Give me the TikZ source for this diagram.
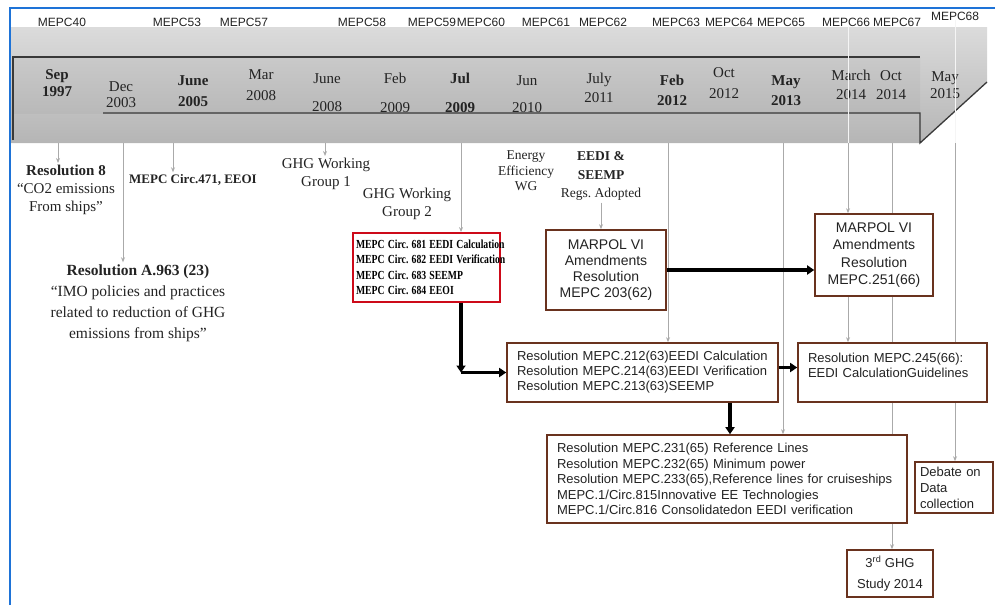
\documentclass[tikz,border=0pt]{standalone}
\usepackage{fontspec}
\usepackage{graphicx}
\setmainfont{Liberation Serif}
\setsansfont{Liberation Sans}
\newcommand{\cndline}[1]{\scalebox{0.79}[1]{\mbox{#1}}}
\usetikzlibrary{arrows.meta}
\pgfdeclarelayer{bg}
\pgfsetlayers{bg,main}
\definecolor{frameblue}{RGB}{30,115,215}
\definecolor{boxc}{RGB}{105,50,30}
\definecolor{redbox}{RGB}{205,10,25}
\definecolor{txt}{RGB}{35,35,35}
\definecolor{linegray}{RGB}{170,170,170}
\begin{document}
\frenchspacing
\begin{tikzpicture}[x=1pt,y=-1pt,
  mepc/.style={font=\sffamily\fontsize{12}{13}\selectfont, text=txt, inner sep=0pt},
  datef/.style={font=\fontsize{15}{17}\selectfont, text=txt, inner sep=0pt, anchor=base},
  ser/.style={font=\fontsize{15}{18}\selectfont, align=center, text=txt, inner sep=2pt},
  sbox/.style={draw=boxc, line width=1.6pt, fill=white, text=txt, inner ysep=0pt,
               font=\sffamily\fontsize{13}{15}\selectfont},
  rbox/.style={draw=redbox, line width=1.8pt, fill=white, text=black, inner xsep=3pt, inner ysep=0pt,
               font=\bfseries\fontsize{12.3}{15.5}\selectfont},
  tick/.style={draw=linegray, line width=0.9pt, -{Stealth[length=5pt,width=4pt]}},
  overl/.style={draw=gray!8, line width=1pt},
  fat/.style={draw=black, line width=3.2pt, -{Triangle[length=7pt,width=9pt]}},
  bandline/.style={draw=gray!45!black, line width=1.3pt}
]
\useasboundingbox (0,0) rectangle (995,605);

% ---------- timeline band ----------
\shade[top color=gray!28, bottom color=gray!58]
  (11,27) -- (987,27) -- (987,82) -- (920,143) -- (11,143) -- cycle;
\shade[top color=gray!42, bottom color=gray!55] (13,57) rectangle (920,113);
\draw[bandline] (13,140) -- (13,57) -- (920,57);
\draw[bandline] (103,113) -- (920,113) -- (920,143) -- (987,82);

% ---------- MEPC session labels ----------
\node[mepc] (mepc40) at (62,22) {MEPC40};
\node[mepc] (mepc53) at (177,22) {MEPC53};
\node[mepc] (mepc57) at (244,22) {MEPC57};
\node[mepc] (mepc58) at (362,22) {MEPC58};
\node[mepc] (mepc59) at (432,22) {MEPC59};
\node[mepc] (mepc60) at (481,22) {MEPC60};
\node[mepc] (mepc61) at (546,22) {MEPC61};
\node[mepc] (mepc62) at (603,22) {MEPC62};
\node[mepc] (mepc63) at (676,22) {MEPC63};
\node[mepc] (mepc64) at (729,22) {MEPC64};
\node[mepc] (mepc65) at (781,22) {MEPC65};
\node[mepc] (mepc66) at (846,22) {MEPC66};
\node[mepc] (mepc67) at (897,22) {MEPC67};
\node[mepc] (mepc68) at (955,16) {MEPC68};

% ---------- dates ----------
\foreach \n/\x/\ya/\yb/\la/\lb in {
  1/57/79/96/\textbf{Sep}/\textbf{1997},
  2/121/91/107/Dec/2003,
  3/193/85/106/\textbf{June}/\textbf{2005},
  4/261/79/100/Mar/2008,
  5/327/83/111/June/2008,
  6/395/83/112/Feb/2009,
  7/460/83/112/\textbf{Jul}/\textbf{2009},
  8/527/85/112/Jun/2010,
  9/599/83/102/July/2011,
  10/672/85/105/\textbf{Feb}/\textbf{2012},
  11/724/77/98/Oct/2012,
  12/786/85/105/\textbf{May}/\textbf{2013},
  13/851/80/99/March/2014,
  14/891/80/99/Oct/2014,
  15/945/81/98/May/2015}{
  \node[datef] (da\n) at (\x,\ya) {\la};
  \node[datef] (db\n) at (\x,\yb) {\lb};
}

% lines from the session labels through the band
\draw[overl] (mepc66.south -| 848,0) -- (848,143);
\draw[overl] (mepc68.south -| 955,0) -- (955,143);

% ---------- anchor points on the band ----------
\coordinate (tSep) at (58,143);
\coordinate (tDec) at (123,143);
\coordinate (tJun05) at (173,143);
\coordinate (tJun08) at (325,143);
\coordinate (tJul09) at (461,143);
\coordinate (tFeb12) at (668,143);
\coordinate (tMay13) at (783,143);
\coordinate (tMar14) at (848,143);
\coordinate (tOct14) at (892,143);
\coordinate (tMay15) at (955,143);

% ---------- serif texts ----------
\node[ser] (res8) at (66,190) {\textbf{Resolution 8}\\“CO2 emissions\\From ships”};
\node[ser, font=\bfseries\fontsize{13}{15}\selectfont] (circ471) at (193,180) {MEPC Circ.471, EEOI};
\node[ser] (ghg1) at (326,174) {GHG Working\\Group 1};
\node[ser] (ghg2) at (407,204) {GHG Working\\Group 2};
\node[ser, font=\fontsize{13.5}{15.5}\selectfont] (eewg) at (526,171) {Energy\\Efficiency\\WG};
\node[ser, font=\fontsize{13.5}{18.5}\selectfont] (eedi) at (601,176) {\textbf{EEDI \&}\\\textbf{SEEMP}\\Regs. Adopted};
\node[ser, font=\fontsize{15.5}{21}\selectfont] (resA) at (138,303)
  {\textbf{Resolution A.963 (23)}\\“IMO policies and practices\\related to reduction of GHG\\emissions from ships”};

% ---------- boxes ----------
\node[rbox, text width=141pt, minimum height=69pt, align=left] (red) at (426.5,267.5)
  {\cndline{MEPC Circ. 681 EEDI Calculation}\\\cndline{MEPC Circ. 682 EEDI Verification}\\\cndline{MEPC Circ. 683 SEEMP}\\\cndline{MEPC Circ. 684 EEOI}};
\node[sbox, minimum width=120pt, minimum height=80pt, align=center,
      font=\sffamily\fontsize{14}{16.2}\selectfont] (m203) at (606,270)
  {MARPOL VI\\Amendments\\Resolution\\MEPC 203(62)};
\node[sbox, minimum width=118pt, minimum height=82pt, align=center,
      font=\sffamily\fontsize{14}{17.3}\selectfont] (m251) at (874,255)
  {MARPOL VI\\Amendments\\Resolution\\MEPC.251(66)};
\node[sbox, inner xsep=10pt, text width=251pt, minimum height=59pt, align=left] (r212) at (642.5,372.5)
  {\mbox{Resolution MEPC.212(63)EEDI Calculation}\\\mbox{Resolution MEPC.214(63)EEDI Verification}\\\mbox{Resolution MEPC.213(63)SEEMP}};
\node[sbox, inner xsep=10pt, text width=169pt, minimum height=59pt, align=left] (r245) at (892.5,372.5)
  {Resolution MEPC.245(66):\\EEDI CalculationGuidelines\\\mbox{}};
\node[sbox, inner xsep=10pt, text width=340pt, minimum height=88pt, align=left,
      font=\sffamily\fontsize{13}{15.5}\selectfont] (r231) at (727,479)
  {\mbox{Resolution MEPC.231(65) Reference Lines}\\\mbox{Resolution MEPC.232(65) Minimum power}\\\mbox{Resolution MEPC.233(65),Reference lines for cruiseships}\\\mbox{MEPC.1/Circ.815Innovative EE Technologies}\\\mbox{MEPC.1/Circ.816 Consolidatedon EEDI verification}};
\node[sbox, inner xsep=5pt, text width=68pt, minimum height=51pt, align=left,
      font=\sffamily\fontsize{13}{16}\selectfont] (debate) at (954,487.5)
  {Debate on\\Data\\collection};
\node[sbox, minimum width=86pt, minimum height=47pt, align=center,
      font=\sffamily\fontsize{13}{21}\selectfont] (ghg3) at (890,573.5)
  {3\textsuperscript{rd} GHG\\Study 2014};

% ---------- thin gray connectors (behind) ----------
\begin{pgfonlayer}{bg}
\draw[tick] (tSep) -- (tSep |- res8.north);
\draw[tick] (tDec) -- (tDec |- resA.north);
\draw[tick] (tJun05) -- (tJun05 |- circ471.north);
\draw[tick] (tJun08) -- (tJun08 |- ghg1.north);
\draw[tick] (tJul09) -- (tJul09 |- red.north);
\draw[tick] (tFeb12) -- (tFeb12 |- r212.north);
\draw[tick] (tMay13) -- (tMay13 |- r231.north);
\draw[tick] (tMar14) -- (tMar14 |- m251.north);
\draw[tick] (tMar14 |- m251.south) -- (tMar14 |- r245.north);
\draw[tick] (tOct14) -- (tOct14 |- ghg3.north);
\draw[tick] (tMay15) -- (tMay15 |- debate.north);
\draw[tick] (eedi.south) -- (eedi.south |- m203.north);
\end{pgfonlayer}

% ---------- thick black connectors ----------
\coordinate (corner) at (tJul09 |- r212.west);
\coordinate (c730) at (730,400);
\draw[fat] (m203.east) -- (m203.east -| m251.west);
\draw[fat] (tJul09 |- red.south) -- (corner);
\draw[fat] (corner) -- (r212.west);
\draw[fat] ([yshift=5pt]r212.east) -- ([yshift=5pt]r212.east -| r245.west);
\draw[fat] (c730 |- r212.south) -- (c730 |- r231.north);

% ---------- frame ----------
\draw[frameblue, line width=1.5pt] (10,605) -- (10,8) -- (995,8);
\end{tikzpicture}
\end{document}
